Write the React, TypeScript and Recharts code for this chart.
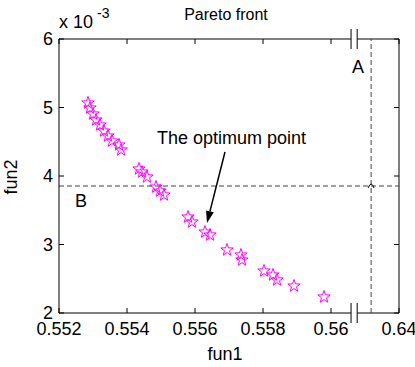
import { ScatterChart, Scatter, XAxis, YAxis, ReferenceLine } from "recharts";

document.body.style.margin = "0";

// Pareto front points (fun2 in units of 1e-3)
const FUN1 = [
  0.552853, 0.552912, 0.553, 0.553088, 0.553206, 0.553324, 0.553441, 0.553559, 0.553765, 0.553824,
  0.554353, 0.554441, 0.554588, 0.554853, 0.554971, 0.555088, 0.555794, 0.555912, 0.556294, 0.556441,
  0.556941, 0.557353, 0.557382, 0.558029, 0.558294, 0.558412, 0.558912, 0.559794,
];
const FUN2 = [
  5.066, 4.993, 4.905, 4.818, 4.745, 4.657, 4.584, 4.511, 4.453, 4.38,
  4.102, 4.058, 3.985, 3.839, 3.781, 3.723, 3.401, 3.328, 3.182, 3.139,
  2.92, 2.847, 2.774, 2.613, 2.555, 2.482, 2.394, 2.234,
];

// broken x axis: the last tick (0.64) is drawn at 0.562 on the plotting scale
const X_TICKS = [0.552, 0.554, 0.556, 0.558, 0.56, 0.562];
const X_TICK_LABELS = ["0.552", "0.554", "0.556", "0.558", "0.56", "0.64"];
const Y_TICKS = [2, 3, 4, 5, 6];
const X_BREAK = [0.56059, 0.56077];
const LINE_A = 0.56118;
const LINE_B = 3.854;
const ARROW = [
  { x: 0.556882, y: 4.35 },
  { x: 0.556353, y: 3.314 },
];

const FONT = "'Liberation Sans', Arial, sans-serif";
const PLOT_TOP = 39;
const PLOT_RIGHT = 399;
const MAGENTA = "#ff00ff";

const points = FUN1.map((x, i) => ({ x, y: FUN2[i] }));

function Star(props: any) {
  const { cx, cy } = props;
  const R = 6.5;
  const r = 2.6;
  let d = "";
  for (let i = 0; i < 10; i++) {
    const a = -Math.PI / 2 + (i * Math.PI) / 5;
    const rr = i % 2 === 0 ? R : r;
    d += (i === 0 ? "M" : "L") + (cx + rr * Math.cos(a)).toFixed(2) + "," + (cy + rr * Math.sin(a)).toFixed(2);
  }
  return <path d={d + "Z"} fill="none" stroke={MAGENTA} strokeWidth={1} />;
}

function OptMark(props: any) {
  const { cx, cy } = props;
  return (
    <path
      d={`M${cx - 3},${cy + 2} Q${cx},${cy - 6} ${cx + 3},${cy + 2}`}
      fill="none"
      stroke="#000"
      strokeWidth={1}
    />
  );
}

function XTick(props: any) {
  const { x, y, payload } = props;
  const idx = X_TICKS.indexOf(payload.value);
  return (
    <g>
      <line x1={x} x2={x} y1={y} y2={y - 5} stroke="#000" />
      <line x1={x} x2={x} y1={PLOT_TOP} y2={PLOT_TOP + 5} stroke="#000" />
      <text x={x} y={y + 22} textAnchor="middle" fontSize={18} fontFamily={FONT} fill="#000">
        {X_TICK_LABELS[idx]}
      </text>
    </g>
  );
}

function YTick(props: any) {
  const { x, y, payload } = props;
  return (
    <g>
      <line x1={x} x2={x + 5} y1={y} y2={y} stroke="#000" />
      <line x1={PLOT_RIGHT - 5} x2={PLOT_RIGHT} y1={y} y2={y} stroke="#000" />
      <text x={x - 6} y={y + 6} textAnchor="end" fontSize={18} fontFamily={FONT} fill="#000">
        {payload.value}
      </text>
    </g>
  );
}

function Arrow(props: any) {
  const { x1, y1, x2, y2 } = props;
  const dx = x2 - x1;
  const dy = y2 - y1;
  const len = Math.sqrt(dx * dx + dy * dy);
  const ux = dx / len;
  const uy = dy / len;
  const hl = 12;
  const hw = 4;
  const bx = x2 - ux * hl;
  const by = y2 - uy * hl;
  return (
    <g>
      <line x1={x1} y1={y1} x2={bx} y2={by} stroke="#000" strokeWidth={1.5} />
      <polygon
        points={`${x2},${y2} ${bx - uy * hw},${by + ux * hw} ${bx + uy * hw},${by - ux * hw}`}
        fill="#000"
      />
    </g>
  );
}

const frame = (a: number, b: number, y: number) => [
  { x: a, y },
  { x: b, y },
];

export default function App() {
  return (
    <div style={{ position: "relative", width: 415, height: 367, background: "#fff" }}>
      <ScatterChart width={415} height={367} margin={{ top: 39, right: 16, bottom: 0, left: 0 }}>
        <XAxis
          type="number"
          dataKey="x"
          domain={[0.552, 0.562]}
          ticks={X_TICKS}
          interval={0}
          allowDataOverflow
          axisLine={false}
          tickLine={false}
          tickSize={0}
          tickMargin={0}
          height={54}
          tick={<XTick />}
        />
        <YAxis
          type="number"
          dataKey="y"
          domain={[2, 6]}
          ticks={Y_TICKS}
          interval={0}
          allowDataOverflow
          axisLine={{ stroke: "#000" }}
          tickLine={false}
          tickSize={0}
          tickMargin={0}
          width={59}
          tick={<YTick />}
        />
        {/* box with the axis break */}
        <ReferenceLine segment={frame(0.552, X_BREAK[0], 2)} stroke="#000" ifOverflow="visible" />
        <ReferenceLine segment={frame(X_BREAK[1], 0.562, 2)} stroke="#000" ifOverflow="visible" />
        <ReferenceLine segment={frame(0.552, X_BREAK[0], 6)} stroke="#000" ifOverflow="visible" />
        <ReferenceLine segment={frame(X_BREAK[1], 0.562, 6)} stroke="#000" ifOverflow="visible" />
        <ReferenceLine x={0.562} stroke="#000" ifOverflow="visible" />
        {X_BREAK.map((bx) =>
          [2, 6].map((by) => (
            <ReferenceLine
              key={`${bx}-${by}`}
              segment={[
                { x: bx, y: by - 0.146 },
                { x: bx, y: by + 0.146 },
              ]}
              stroke="#000"
              ifOverflow="visible"
            />
          ))
        )}
        <ReferenceLine x={LINE_A} stroke="#444" strokeDasharray="5 3" ifOverflow="visible" />
        <ReferenceLine y={LINE_B} stroke="#444" strokeDasharray="5 3" ifOverflow="visible" />
        <ReferenceLine segment={ARROW} ifOverflow="visible" shape={Arrow} />
        <Scatter data={points} shape={<Star />} isAnimationActive={false} />
        <Scatter data={[{ x: LINE_A, y: LINE_B }]} shape={<OptMark />} isAnimationActive={false} />
      </ScatterChart>
      <svg
        width={415}
        height={367}
        style={{ position: "absolute", left: 0, top: 0, pointerEvents: "none" }}
        fontFamily={FONT}
        fill="#000"
      >
        <text x={226} y={20} textAnchor="middle" fontSize={16}>
          Pareto front
        </text>
        <text x={59} y={28} fontSize={18}>
          x 10
        </text>
        <text x={97} y={18} fontSize={14}>
          -3
        </text>
        <text x={225} y={360} textAnchor="middle" fontSize={18}>
          fun1
        </text>
        <text x={17} y={177} textAnchor="middle" fontSize={18} transform="rotate(-90 17 177)">
          fun2
        </text>
        <text x={157} y={144} fontSize={18}>
          The optimum point
        </text>
        <text x={352} y={73} fontSize={18}>
          A
        </text>
        <text x={75} y={207} fontSize={18}>
          B
        </text>
      </svg>
    </div>
  );
}
